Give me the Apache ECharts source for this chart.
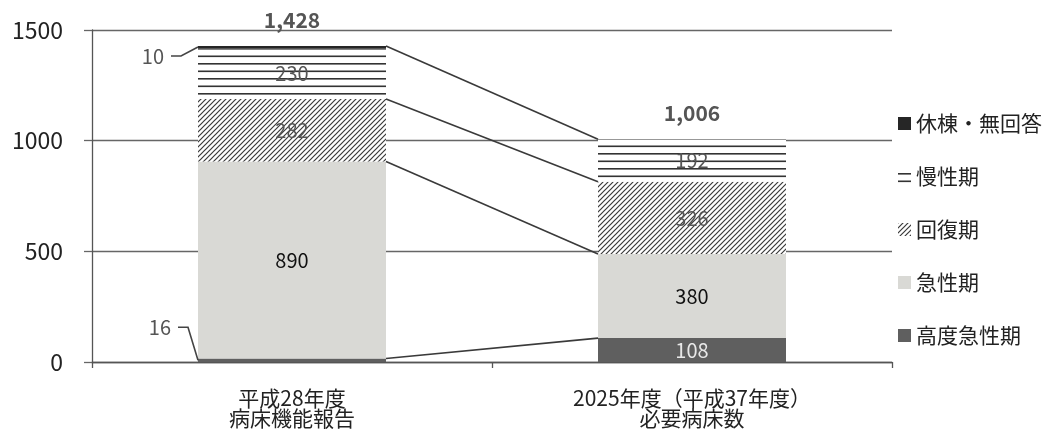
<!DOCTYPE html>
<html>
<head>
<meta charset="utf-8">
<script src="https://cdn.jsdelivr.net/npm/echarts@6/dist/echarts.min.js"></script>
<style>
  html, body { margin: 0; padding: 0; background: #fff; }
  #chart { width: 1055px; height: 432px; }
</style>
</head>
<body>
<div id="chart"></div>
<script>
// ---- data ----
const categories = ['平成28年度\n病床機能報告', '2025年度（平成37年度）\n必要病床数'];
const stageNames = ['高度急性期', '急性期', '回復期', '慢性期', '休棟・無回答'];
const highAcute = [16, 108];
const acute = [890, 380];
const recovery = [282, 326];
const chronic = [230, 192];
const inactive = [10, 0];
const yTicks = [0, 500, 1000, 1500];
// stages after which a bar-to-bar link line is drawn
const linkAfter = ['高度急性期', '急性期', '回復期', '休棟・無回答'];

// ---- derived ----
const stageValues = [highAcute, acute, recovery, chronic, inactive];
const cumulative = categories.map((_, c) => {
  let s = 0;
  return stageValues.map(v => (s += v[c]));
});
const totals = cumulative.map(row => row[row.length - 1]);
const calloutLimit = 50;   // segments thinner than this get an outside callout

// ---- fill patterns ----
function hatchPattern() {
  const s = 5, c = document.createElement('canvas');
  c.width = c.height = s;
  const g = c.getContext('2d');
  g.fillStyle = '#fff'; g.fillRect(0, 0, s, s);
  g.strokeStyle = '#3a3a3a'; g.lineWidth = 1.2;
  g.beginPath();
  g.moveTo(-1, s + 1); g.lineTo(s + 1, -1);
  g.moveTo(-1, 1); g.lineTo(1, -1);
  g.moveTo(s - 1, s + 1); g.lineTo(s + 1, s - 1);
  g.stroke();
  return c;
}
function stripePattern() {
  const c = document.createElement('canvas');
  c.width = 8; c.height = 15;
  const g = c.getContext('2d');
  g.fillStyle = '#fff'; g.fillRect(0, 0, 8, 15);
  g.fillStyle = '#333';
  g.fillRect(0, 3, 8, 1.6);
  g.fillRect(0, 10.5, 8, 1.6);
  return c;
}

const FONT = '"Noto Sans CJK JP", "Noto Sans", sans-serif';
const barRatio = 0.47;
const stageFill = [
  '#5f5f5f',
  '#d9d9d5',
  { image: hatchPattern(), repeat: 'repeat' },
  { image: stripePattern(), repeat: 'repeat' },
  '#262626'
];
const stageLabelColor = ['#e8e8e8', '#111', '#555', '#555', '#fff'];

const barSeries = stageNames.map((name, i) => ({
  name,
  type: 'bar',
  stack: 'beds',
  barWidth: (barRatio * 100) + '%',
  data: stageValues[i],
  itemStyle: { color: stageFill[i] },
  label: {
    show: true,
    position: 'inside',
    fontFamily: FONT,
    fontSize: 20,
    color: stageLabelColor[i],
    textBorderWidth: 0,
    formatter: p => (p.value >= calloutLimit ? String(p.value) : '')
  },
  emphasis: { disabled: true },
  z: 2
}));

// link lines between matching stage boundaries of the two bars
const linkData = linkAfter.map(n => {
  const k = stageNames.indexOf(n);
  return [0, cumulative[0][k], 1, cumulative[1][k]];
});
const linkSeries = {
  type: 'custom',
  name: 'links',
  silent: true,
  clip: false,
  z: 3,
  encode: { x: [0, 2], y: [1, 3] },
  data: linkData,
  renderItem(params, api) {
    const half = api.size([1, 0])[0] * barRatio / 2;
    const a = api.coord([api.value(0), api.value(1)]);
    const b = api.coord([api.value(2), api.value(3)]);
    return {
      type: 'line',
      shape: { x1: a[0] + half, y1: a[1], x2: b[0] - half, y2: b[1] },
      style: { stroke: '#3a3a3a', lineWidth: 1.6 }
    };
  }
};

// bar totals above each bar
const totalSeries = {
  type: 'custom',
  name: 'totals',
  silent: true,
  clip: false,
  z: 4,
  encode: { x: 0, y: 1 },
  data: totals.map((t, c) => [c, t]),
  renderItem(params, api) {
    const p = api.coord([api.value(0), api.value(1)]);
    return {
      type: 'text',
      x: p[0], y: p[1] - 26,
      style: {
        text: api.value(1).toLocaleString('en-US'),
        fill: '#555', fontFamily: FONT, fontSize: 21, fontWeight: 'bold',
        align: 'center', verticalAlign: 'middle'
      }
    };
  }
};

// callouts for thin segments
const calloutData = [];
categories.forEach((_, c) => {
  stageValues.forEach((v, k) => {
    if (v[c] > 0 && v[c] < calloutLimit) {
      calloutData.push([c, cumulative[c][k] - v[c], cumulative[c][k], v[c]]);
    }
  });
});
const calloutSeries = {
  type: 'custom',
  name: 'callouts',
  silent: true,
  clip: false,
  z: 4,
  encode: { x: 0, y: [1, 2] },
  data: calloutData,
  renderItem(params, api) {
    const c = api.value(0), lo = api.value(1), hi = api.value(2);
    const half = api.size([1, 0])[0] * barRatio / 2;
    const anchor = api.coord([c, (lo + hi) / 2]);
    const ax = anchor[0] - half, ay = anchor[1];
    const atTop = hi === totals[c];
    const ey = atTop ? ay + 9 : ay - 33;
    const ex = ax - (atTop ? 17 : 10);
    const sx = ex - 10;
    return {
      type: 'group',
      children: [
        {
          type: 'polyline',
          shape: { points: [[sx, ey], [ex, ey], [ax, ay]] },
          style: { stroke: '#444', lineWidth: 1.6, fill: null }
        },
        {
          type: 'text',
          x: sx - 7, y: ey,
          style: {
            text: String(api.value(3)),
            fill: '#555', fontFamily: FONT, fontSize: 20,
            align: 'right', verticalAlign: 'middle'
          }
        }
      ]
    };
  }
};

const chart = echarts.init(document.getElementById('chart'), null, { renderer: 'canvas' });
chart.setOption({
  animation: false,
  backgroundColor: '#fff',
  textStyle: { fontFamily: FONT },
  grid: { left: 92, right: 163, top: 30, bottom: 70, containLabel: false },
  legend: {
    data: stageNames.slice().reverse(),
    orient: 'vertical',
    left: 893,
    top: 108,
    itemWidth: 13,
    itemHeight: 13,
    itemGap: 32,
    icon: 'rect',
    selectedMode: false,
    textStyle: { fontFamily: FONT, fontSize: 21, lineHeight: 21, color: '#222' }
  },
  xAxis: {
    type: 'category',
    data: categories,
    axisLine: { lineStyle: { color: '#555', width: 1.3 } },
    axisTick: { show: true, length: 6, lineStyle: { color: '#555', width: 1.3 } },
    axisLabel: {
      interval: 0, margin: 26, fontFamily: FONT, fontSize: 21, lineHeight: 20, color: '#222'
    }
  },
  yAxis: {
    type: 'value',
    min: yTicks[0],
    max: yTicks[yTicks.length - 1],
    interval: yTicks[1] - yTicks[0],
    axisLine: { show: true, lineStyle: { color: '#555', width: 1.3 } },
    axisTick: { show: true, length: 8, lineStyle: { color: '#666', width: 1.3 } },
    splitLine: { show: true, lineStyle: { color: '#666', width: 1.3 } },
    axisLabel: {
      margin: 29, fontFamily: FONT, fontSize: 23, color: '#222',
      formatter: v => String(v)
    }
  },
  series: [...barSeries, linkSeries, totalSeries, calloutSeries]
});
</script>
</body>
</html>
